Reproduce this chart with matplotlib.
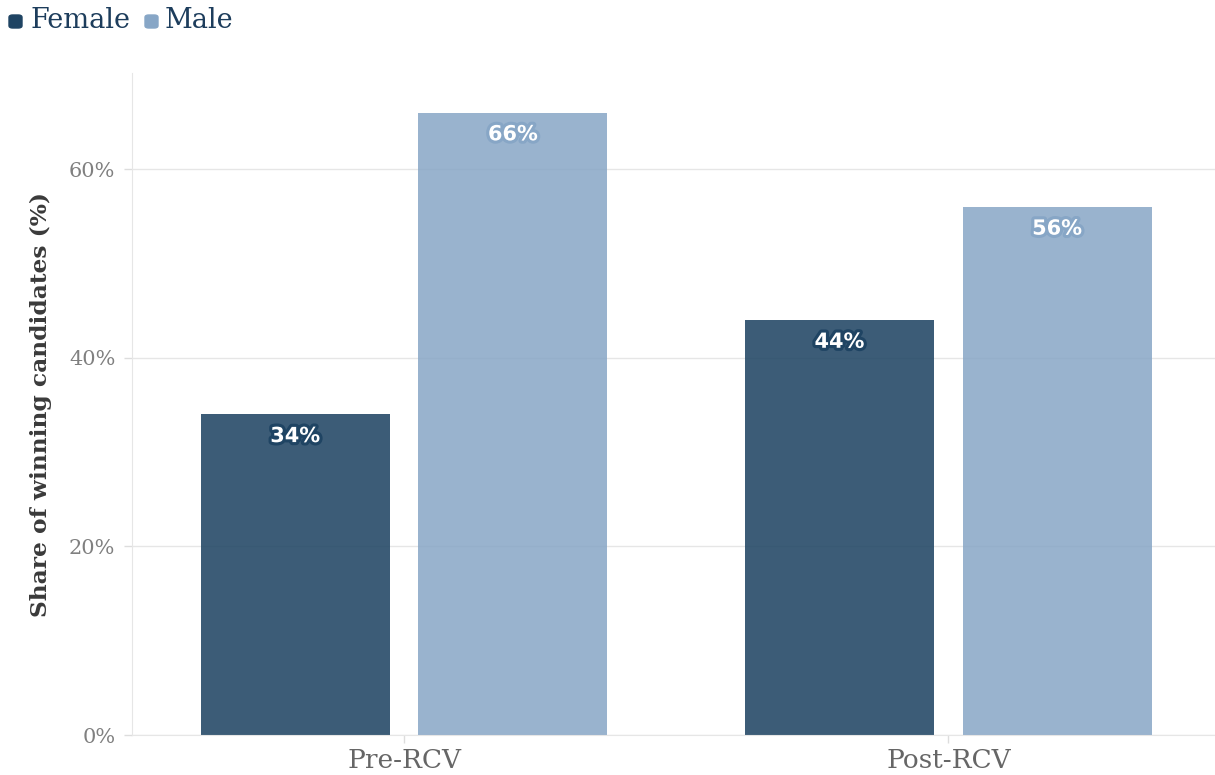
import matplotlib
matplotlib.use("Agg")
import matplotlib.pyplot as plt
import matplotlib.patheffects as pe
from matplotlib.patches import FancyBboxPatch
import numpy as np

categories = ["Pre-RCV", "Post-RCV"]
female = [34, 44]
male = [66, 56]
y_ticks = [0, 20, 40, 60]

female_color = "#1f4463"
male_color = "#87a6c6"
legend_text_color = "#1d3d5c"

fig = plt.figure(figsize=(12.15, 7.75), dpi=100)
ax = fig.add_axes([0.1086, 0.0516, 0.8914, 0.8542])

x = np.arange(len(categories))
w = 0.347
off = 0.2

bars_f = ax.bar(x - off, female, w, color=female_color, alpha=0.87, zorder=2)
bars_m = ax.bar(x + off, male, w, color=male_color, alpha=0.85, zorder=2)

for bars, vals, col in [(bars_f, female, female_color), (bars_m, male, male_color)]:
    for b, v in zip(bars, vals):
        ax.text(b.get_x() + b.get_width() / 2, v - 2.3, f"{v}%", ha="center", va="center",
                color="white", fontsize=15, fontweight="bold", family="DejaVu Sans", zorder=3,
                path_effects=[pe.withStroke(linewidth=4.5, foreground=col)])

ax.set_xlim(-0.5, 1.49)
ax.set_ylim(0, 70.2)
ax.set_xticks(x)
ax.set_xticklabels(categories, family="DejaVu Serif", fontsize=19, color="#666666")
ax.set_yticks(y_ticks)
ax.set_yticklabels([f"{t}%" for t in y_ticks], family="DejaVu Serif", fontsize=15, color="#808080")
ax.tick_params(axis="both", length=6, color="#dddddd", width=1)
ax.tick_params(axis="x", pad=3)
ax.tick_params(axis="y", pad=6)

ax.grid(axis="y", color="#e6e6e6", linewidth=1, zorder=0)
ax.set_axisbelow(True)
for s in ["top", "right"]:
    ax.spines[s].set_visible(False)
ax.spines["left"].set_color("#e6e6e6")
ax.spines["bottom"].set_color("#e6e6e6")

ax.set_ylabel("Share of winning candidates (%)", family="DejaVu Serif", fontweight="bold",
              fontsize=16.8, color="#3a3a3a", labelpad=12)

# legend drawn at top-left
W, H = 1215, 775
for px, col, label, tx in [(9, female_color, "Female", 30), (145, male_color, "Male", 165)]:
    fig.patches.append(FancyBboxPatch((px / W, (H - 28) / H), 13 / W, 13 / H,
                                      boxstyle="round,pad=0,rounding_size=0.003",
                                      transform=fig.transFigure, color=col, figure=fig))
    fig.text(tx / W, (H - 20) / H, label, color=legend_text_color, fontsize=19.5,
             va="center", family="DejaVu Serif")

fig.savefig("out.png", dpi=100)
